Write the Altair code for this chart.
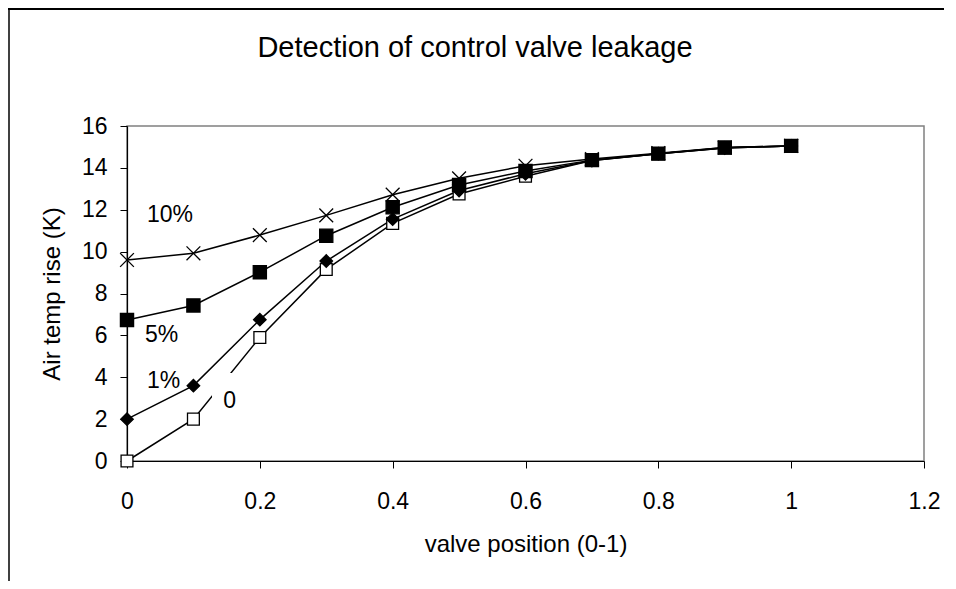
import altair as alt
import pandas as pd

# ---- data ----
x_pos = [0, 0.1, 0.2, 0.3, 0.4, 0.5, 0.6, 0.7, 0.8, 0.9, 1.0]
series_names = ["0", "1%", "5%", "10%"]
leak_0 = [0.0, 2.0, 5.9, 9.15, 11.35, 12.75, 13.6, 14.35, 14.68, 14.95, 15.05]
leak_1 = [2.0, 3.6, 6.75, 9.55, 11.55, 12.92, 13.72, 14.35, 14.68, 14.95, 15.05]
leak_5 = [6.73, 7.43, 9.02, 10.76, 12.12, 13.18, 13.85, 14.37, 14.68, 14.97, 15.05]
leak_10 = [9.6, 9.92, 10.79, 11.73, 12.72, 13.5, 14.1, 14.42, 14.7, 14.97, 15.05]

label_text = ["10%", "5%", "1%", "0"]
label_x = [0.03, 0.027, 0.03, 0.145]
label_y = [11.41, 5.68, 3.49, 2.53]

title_text = ["Detection of control valve leakage"]

x_ticks = [0, 0.2, 0.4, 0.6, 0.8, 1.0, 1.2]
y_ticks = [0, 2, 4, 6, 8, 10, 12, 14, 16]

FONT = "Liberation Sans"

rows = []
for name, vals in zip(series_names, [leak_0, leak_1, leak_5, leak_10]):
    for xv, yv in zip(x_pos, vals):
        rows.append({"series": name, "x": xv, "y": yv})
df = pd.DataFrame(rows)

labels_df = pd.DataFrame({"text": label_text, "x": label_x, "y": label_y})
# white background box of the "0" label (it hides part of the line)
box_df = pd.DataFrame({"x": [0.128], "x2": [0.17], "y": [2.44], "y2": [4.2]})
title_df = pd.DataFrame({"text": title_text})

x_scale = alt.Scale(domain=[0, 1.2], nice=False, zero=False)
y_scale = alt.Scale(domain=[0, 16], nice=False)

x_axis = alt.Axis(values=x_ticks, format="~g", title="valve position (0-1)",
                  titleY=90, titleBaseline="alphabetic", labelPadding=22,
                  labelFlush=False)
y_axis = alt.Axis(values=y_ticks, title="Air temp rise (K)", titleX=-68,
                  titleY=167.5, titleBaseline="alphabetic", labelPadding=13,
                  labelFlush=False)

lines = alt.Chart(df).mark_line(color="black", strokeWidth=1.5).encode(
    x=alt.X("x:Q", scale=x_scale, axis=x_axis),
    y=alt.Y("y:Q", scale=y_scale, axis=y_axis),
    detail="series:N",
)

box = alt.Chart(box_df).mark_rect(color="white").encode(
    x=alt.X("x:Q", scale=x_scale), x2="x2:Q",
    y=alt.Y("y:Q", scale=y_scale), y2="y2:Q",
)

X_PATH = "M-1,-1L1,1M-1,1L1,-1"
points = alt.Chart(df).mark_point(stroke="black", strokeWidth=1.3, opacity=1, fillOpacity=1).encode(
    x=alt.X("x:Q", scale=x_scale),
    y=alt.Y("y:Q", scale=y_scale),
    shape=alt.Shape("series:N", scale=alt.Scale(domain=series_names,
                    range=["square", "diamond", "square", X_PATH]), legend=None),
    fill=alt.Fill("series:N", scale=alt.Scale(domain=series_names,
                  range=["white", "black", "black", "black"]), legend=None),
    size=alt.Size("series:N", scale=alt.Scale(domain=series_names,
                  range=[140, 190, 180, 150]), legend=None),
)

texts = alt.Chart(labels_df).mark_text(
    font=FONT, fontSize=23, color="black", align="left", baseline="alphabetic"
).encode(
    x=alt.X("x:Q", scale=x_scale),
    y=alt.Y("y:Q", scale=y_scale),
    text="text:N",
)

title_mark = alt.Chart(title_df).mark_text(
    font=FONT, fontSize=29, color="black", align="center", baseline="alphabetic"
).encode(x=alt.value(348), y=alt.value(-69), text="text:N")

frame_df = pd.DataFrame({"a": [0]})
top_border = alt.Chart(frame_df).mark_rule(color="black", strokeWidth=2).encode(
    x=alt.value(-119), x2=alt.value(830), y=alt.value(-117))
left_border = alt.Chart(frame_df).mark_rule(color="black", strokeWidth=1.5).encode(
    x=alt.value(-118), y=alt.value(-118), y2=alt.value(455))

chart = alt.layer(top_border, left_border, title_mark, lines, box, points, texts).properties(
    width=797,
    height=335,
    autosize=alt.AutoSizeParams(type="none"),
    padding={"left": 119, "top": 118, "right": 20, "bottom": 120},
).configure_view(
    stroke="#808080", strokeWidth=1.5
).configure_axis(
    grid=False, domainColor="black", domainWidth=1.2, tickColor="black", tickWidth=1,
    tickSize=7, labelColor="black", labelFont=FONT, labelFontSize=23,
    titleColor="black", titleFont=FONT, titleFontSize=24, titleFontWeight="normal",
)

chart.save("out.html", embed_options={"renderer": "svg", "actions": False})
